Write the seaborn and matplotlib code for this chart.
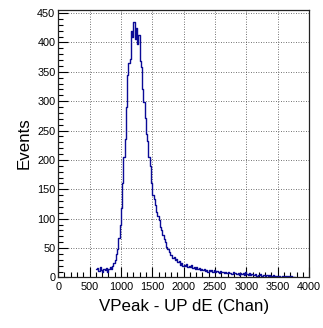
import numpy as np
import pandas as pd
import matplotlib
matplotlib.use("Agg")
import matplotlib.pyplot as plt
import seaborn as sns
from matplotlib.ticker import MultipleLocator

# Histogram data (bin lower edges, width 20 channels)
bin_width = 20
bin_start = 600
counts = [
    14, 16, 11, 17, 13, 9, 15, 12, 16, 10, 14, 17, 15,            # 600-859
    20, 24, 30, 40, 48, 68, 90, 118, 160, 205, 235, 290, 345,     # 860-1119
    365, 372, 420, 410, 434, 405, 425, 398, 412, 368, 358, 320,   # 1120-1359
    298, 272, 245, 232, 205, 190, 160, 140, 133, 123, 112, 104,   # 1360-1599
    98, 86, 80, 72, 66, 60, 52, 48, 44, 39, 38, 33, 35, 29, 31,   # 1600-1899
    26, 28, 22, 24, 20, 22, 19, 23, 18, 20, 17, 21, 16, 18, 15,   # 1900-2199
    17, 14, 16, 13, 15, 12, 14, 11, 13, 10, 12, 11, 13, 10, 12,   # 2200-2499
    9, 11, 10, 8, 11, 9, 10, 7, 9, 8, 10, 7, 8, 6, 9,             # 2500-2799
    7, 8, 6, 7, 5, 8, 6, 7, 5, 9, 6, 5, 7, 4, 6,                  # 2800-3099
    5, 4, 6, 3, 5, 4, 6, 3, 4, 5, 3, 4, 2, 4, 3,                  # 3100-3399
    2, 4, 3, 2, 3, 2, 3, 1, 2, 3, 1, 2, 1, 2, 1,                  # 3400-3699
    2, 1, 1, 0,                                                   # 3700-3779
]
x_ticks = [0, 500, 1000, 1500, 2000, 2500, 3000, 3500, 4000]
y_ticks = [0, 50, 100, 150, 200, 250, 300, 350, 400, 450]

edges = bin_start + bin_width * np.arange(len(counts) + 1)
centers = (edges[:-1] + edges[1:]) / 2
df = pd.DataFrame({"chan": centers, "events": counts})

sns.set_style("white")
plt.rcParams["font.family"] = ["Liberation Sans", "DejaVu Sans"]

fig = plt.figure(figsize=(3.23, 3.28), dpi=100)
ax = fig.add_axes([0.180, 0.154, 0.777, 0.817])

sns.histplot(data=df, x="chan", weights="events", bins=[float(e) for e in edges],
             element="step", fill=False, color="#0b0b96", linewidth=1.0, ax=ax)

ax.set_xlim(0, 4000)
ax.set_ylim(0, 456)
ax.set_xticks(x_ticks)
ax.set_yticks(y_ticks)
ax.xaxis.set_minor_locator(MultipleLocator(100))
ax.yaxis.set_minor_locator(MultipleLocator(10))

ax.grid(True, which="major", color="#444444", linestyle=(0, (1, 2)), linewidth=0.6)
ax.set_axisbelow(True)

ax.tick_params(which="both", direction="in", bottom=True, left=True,
               top=False, right=False, colors="black", width=0.8, labelsize=7.8)
ax.tick_params(which="major", length=7, pad=3)
ax.tick_params(which="minor", length=3.5)
ax.tick_params(axis="y", which="major", pad=2)

for s in ax.spines.values():
    s.set_visible(True)
    s.set_color("#222222")
    s.set_linewidth(0.9)

ax.set_xlabel("VPeak - UP dE (Chan)", fontsize=12.2, labelpad=5, color="black")
ax.set_ylabel("Events", fontsize=12.2, labelpad=4, color="black")

fig.savefig("out.png", dpi=100)
